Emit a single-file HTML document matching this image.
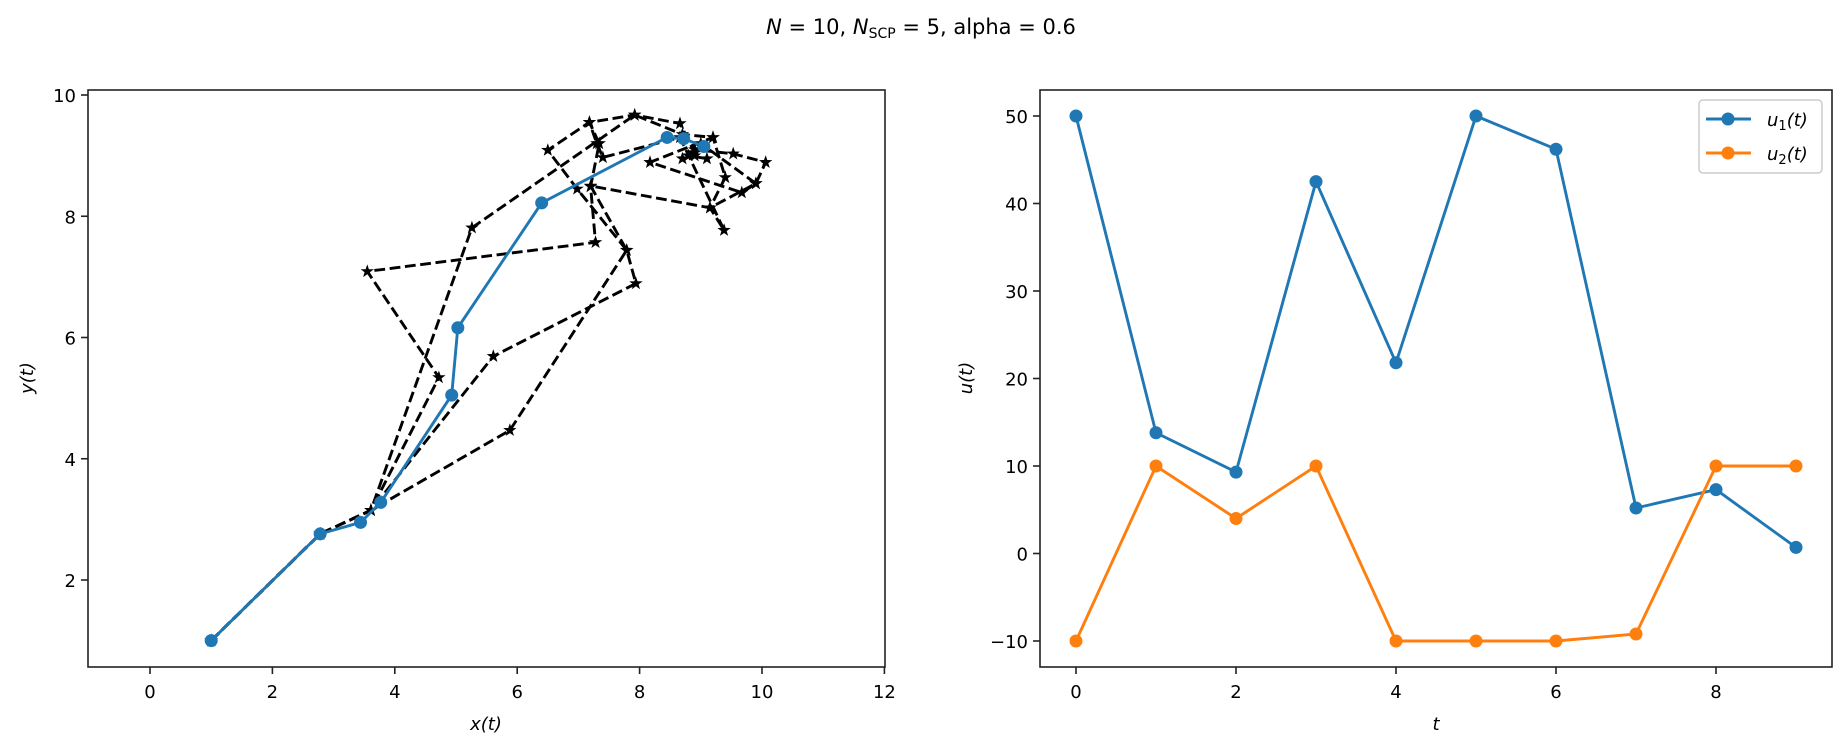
<!DOCTYPE html>
<html><head><meta charset="utf-8"><style>
html,body{margin:0;padding:0;background:#fff;}
svg{display:block;font-family:"DejaVu Sans","Liberation Sans",sans-serif;}
</style></head><body>
<svg id="fig" width="1847" height="748" viewBox="0 0 1847 748" xmlns="http://www.w3.org/2000/svg">
<rect width="1847" height="748" fill="#fff"/>
<text x="921" y="34" font-size="21" text-anchor="middle"><tspan font-style="italic">N</tspan> = 10, <tspan font-style="italic">N</tspan><tspan font-size="14" dy="4">SCP</tspan><tspan dy="-4"> = 5, alpha = 0.6</tspan></text>
<g id="left"></g>
<g id="right"></g>
</svg>
<script>
// ---- left chart data ----
const blueX = [1, 2.78, 3.44, 3.77, 4.93, 5.03, 6.4, 8.45, 8.72, 9.05];
const blueY = [1, 2.76, 2.95, 3.28, 5.05, 6.16, 8.22, 9.3, 9.28, 9.15];
const iter1X = [1, 2.78, 3.61, 4.72, 3.55, 7.28, 7.2, 7.34, 7.18, 7.92, 8.66, 8.9];
const iter1Y = [1, 2.76, 3.15, 5.34, 7.09, 7.57, 8.49, 9.2, 9.55, 9.67, 9.53, 9.05];
const iter2X = [1, 2.78, 3.61, 5.61, 7.94, 7.79, 6.98, 6.5, 7.18, 7.3, 7.4, 8.66, 9.38, 9.15, 9.4, 9.2, 8.9];
const iter2Y = [1, 2.76, 3.15, 5.69, 6.89, 7.44, 8.45, 9.09, 9.55, 9.2, 8.97, 9.3, 7.77, 8.14, 8.64, 9.3, 9.0];
const iter3X = [1, 2.78, 3.61, 5.88, 7.79, 7.2, 9.15, 9.9, 10.06, 9.53, 8.9, 8.7];
const iter3Y = [1, 2.76, 3.15, 4.47, 7.44, 8.5, 8.14, 8.54, 8.89, 9.03, 9.1, 8.95];
const iter4X = [1, 2.78, 3.61, 5.26, 7.92, 8.7, 9.2, 8.17, 9.67, 9.9, 9.0, 8.8, 9.1];
const iter4Y = [1, 2.76, 3.15, 7.81, 9.67, 9.35, 9.3, 8.89, 8.39, 8.54, 9.2, 9.0, 8.95];
const leftXTicks = [0, 2, 4, 6, 8, 10, 12];
const leftYTicks = [2, 4, 6, 8, 10];
// ---- right chart data ----
const tVals = [0, 1, 2, 3, 4, 5, 6, 7, 8, 9];
const u1Vals = [50, 13.8, 9.3, 42.5, 21.8, 50, 46.2, 5.2, 7.3, 0.7];
const u2Vals = [-10, 10, 4, 10, -10, -10, -10, -9.2, 10, 10];
const rightXTicks = [0, 2, 4, 6, 8];
const rightYTicks = [-10, 0, 10, 20, 30, 40, 50];

const NS = 'http://www.w3.org/2000/svg';
function mk(parent, tag, attrs, text) {
  const e = document.createElementNS(NS, tag);
  for (const k in attrs) e.setAttribute(k, attrs[k]);
  if (text !== undefined) e.textContent = text;
  parent.appendChild(e);
  return e;
}
function scale(d0, d1, p0, p1) { return v => p0 + (v - d0) / (d1 - d0) * (p1 - p0); }

function axesFrame(g, L, R, T, B, sx, sy, xt, yt) {
  for (const v of xt) {
    const x = sx(v);
    const tk = mk(g, 'line', {x1: x, x2: x, y1: B, y2: B + 7, stroke: '#222', 'stroke-width': 1.6});
    
    
    const lb = mk(g, 'text', {x: x, y: 698, 'font-size': 18, 'text-anchor': 'middle'}, v < 0 ? '\u2212' + (-v) : String(v));
    
    
  }
  for (const v of yt) {
    const y = sy(v);
    const tk = mk(g, 'line', {x1: L - 7, x2: L, y1: y, y2: y, stroke: '#222', 'stroke-width': 1.6});
    
    
    const lb = mk(g, 'text', {x: L - 12, y: y + 7, 'font-size': 18, 'text-anchor': 'end'}, v < 0 ? '\u2212' + (-v) : String(v));
    
    
  }
}
function spines(g, L, R, T, B) {
  const r = mk(g, 'rect', {x: L, y: T, width: R - L, height: B - T, fill: 'none', stroke: '#222', 'stroke-width': 1.6});
  
  
}
function starPath(cx, cy, r) {
  let d = '';
  for (let i = 0; i < 10; i++) {
    const a = -Math.PI / 2 + i * Math.PI / 5;
    const rr = i % 2 ? r * 0.4 : r;
    d += (i ? 'L' : 'M') + (cx + rr * Math.cos(a)).toFixed(1) + ',' + (cy + rr * Math.sin(a)).toFixed(1);
  }
  return d + 'Z';
}

// ---- Left ----
(function () {
  const g = document.getElementById('left');
  const L = 88, R = 885, T = 90, B = 667;
  const sx = scale(0, 12, 150, 884.4);
  const sy = scale(2, 10, 580, 95);
  axesFrame(g, L, R, T, B, sx, sy, leftXTicks, leftYTicks);
  const iters = [[iter1X, iter1Y], [iter2X, iter2Y], [iter3X, iter3Y], [iter4X, iter4Y]];
  iters.forEach(([xs, ys], k) => {
    const pts = xs.map((x, i) => sx(x).toFixed(1) + ',' + sy(ys[i]).toFixed(1)).join(' ');
    const pl = mk(g, 'polyline', {points: pts, fill: 'none', stroke: '#000', 'stroke-width': 2.9, 'stroke-dasharray': '10.8,4.6'});
    
    
    xs.forEach((x, i) => {
      const s = mk(g, 'path', {d: starPath(sx(x), sy(ys[i]), 7), fill: '#000'});
      
      
    });
  });
  const bp = blueX.map((x, i) => sx(x).toFixed(1) + ',' + sy(blueY[i]).toFixed(1)).join(' ');
  const bl = mk(g, 'polyline', {points: bp, fill: 'none', stroke: '#1f77b4', 'stroke-width': 2.9});
  
  
  blueX.forEach((x, i) => {
    const c = mk(g, 'circle', {cx: sx(x), cy: sy(blueY[i]), r: 6.5, fill: '#1f77b4'});
    
    
  });
  spines(g, L, R, T, B);
  const xl = mk(g, 'text', {x: 486, y: 730, 'font-size': 18, 'text-anchor': 'middle', 'font-style': 'italic'}, 'x(t)');
  
  
  const yl = mk(g, 'text', {x: 0, y: 0, 'font-size': 18, 'text-anchor': 'middle', 'font-style': 'italic', transform: 'translate(33,378) rotate(-90)'}, 'y(t)');
  
  
})();

// ---- Right ----
(function () {
  const g = document.getElementById('right');
  const L = 1040, R = 1832, T = 90, B = 667;
  const sx = scale(0, 9, 1076, 1796);
  const sy = scale(-10, 50, 641, 116);
  axesFrame(g, L, R, T, B, sx, sy, rightXTicks, rightYTicks);
  const series = [[u1Vals, '#1f77b4', 'u1'], [u2Vals, '#ff7f0e', 'u2']];
  series.forEach(([vals, col, nm]) => {
    const pts = tVals.map((t, i) => sx(t).toFixed(1) + ',' + sy(vals[i]).toFixed(1)).join(' ');
    const pl = mk(g, 'polyline', {points: pts, fill: 'none', stroke: col, 'stroke-width': 2.9});
    
    
    tVals.forEach((t, i) => {
      const c = mk(g, 'circle', {cx: sx(t), cy: sy(vals[i]), r: 6.5, fill: col});
      
      
    });
  });
  spines(g, L, R, T, B);
  const xl = mk(g, 'text', {x: 1436, y: 730, 'font-size': 18, 'text-anchor': 'middle', 'font-style': 'italic'}, 't');
  
  
  const yl = mk(g, 'text', {x: 0, y: 0, 'font-size': 18, 'text-anchor': 'middle', 'font-style': 'italic', transform: 'translate(972,378) rotate(-90)'}, 'u(t)');
  
  
  // legend
  const lg = mk(g, 'g', {});
  
  
  mk(lg, 'rect', {x: 1699, y: 100, width: 123, height: 73, rx: 4, fill: '#fff', stroke: '#ccc', 'stroke-width': 1.5, 'fill-opacity': 0.8});
  [[119, '#1f77b4', '1'], [153, '#ff7f0e', '2']].forEach(([y, col, n]) => {
    const e = mk(lg, 'g', {});
    
    
    mk(e, 'line', {x1: 1706, x2: 1751, y1: y, y2: y, stroke: col, 'stroke-width': 2.9});
    mk(e, 'circle', {cx: 1728, cy: y, r: 6.5, fill: col});
    const tx = mk(e, 'text', {x: 1767, y: y + 7, 'font-size': 18, 'font-style': 'italic'});
    tx.innerHTML = 'u<tspan font-size="13" dy="4" font-style="normal">' + n + '</tspan><tspan dy="-4">(t)</tspan>';
  });
})();
</script>
</body></html>
